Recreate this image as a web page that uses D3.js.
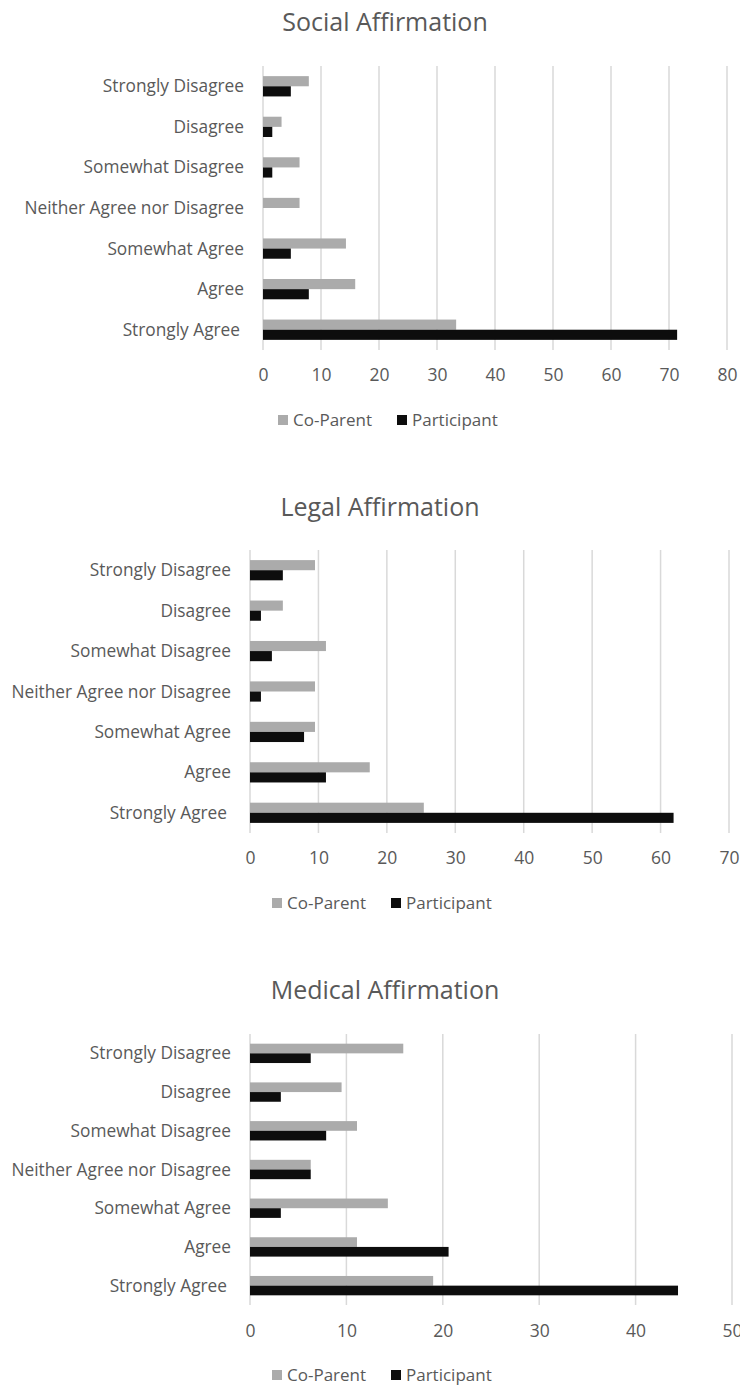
<!DOCTYPE html>
<html>
<head>
<meta charset="utf-8">
<script src="https://cdn.jsdelivr.net/npm/d3@7"></script>
<style>
  body { margin: 0; background: #fff; }
  svg text { font-family: 'Open Sans', sans-serif; fill: #595959; }
</style>
</head>
<body>
<div id="canvas"></div>
<script>
const categories = ['Strongly Disagree', 'Disagree', 'Somewhat Disagree',
  'Neither Agree nor Disagree', 'Somewhat Agree', 'Agree', 'Strongly Agree ']
const seriesNames = ['Co-Parent', 'Participant']
const colors = ['#ababab', '#0d0d0d']

const socialCoParent = [7.9, 3.2, 6.3, 6.3, 14.3, 15.9, 33.3]
const socialParticipant = [4.8, 1.6, 1.6, 0, 4.8, 7.9, 71.4]
const legalCoParent = [9.5, 4.8, 11.1, 9.5, 9.5, 17.5, 25.4]
const legalParticipant = [4.8, 1.6, 3.2, 1.6, 7.9, 11.1, 61.9]
const medicalCoParent = [15.9, 9.5, 11.1, 6.3, 14.3, 11.1, 19.0]
const medicalParticipant = [6.3, 3.2, 7.9, 6.3, 3.2, 20.6, 44.4]

const socialTicks = [0, 10, 20, 30, 40, 50, 60, 70, 80]
const legalTicks = [0, 10, 20, 30, 40, 50, 60, 70]
const medicalTicks = [0, 10, 20, 30, 40, 50]

const svg = d3.select('#canvas')
  .append('svg')
  .attr('width', 740)
  .attr('height', 1386)

const charts = [
  {title: 'Social Affirmation', titleX: 385, titleY: 22, series: [socialCoParent, socialParticipant],
    ticks: socialTicks, x0: 263, x1: 727, top: 66, bottom: 350, labelX: 244, tickY: 375, legendY: 420, legendX: [278, 397]},
  {title: 'Legal Affirmation', titleX: 380, titleY: 507, series: [legalCoParent, legalParticipant],
    ticks: legalTicks, x0: 250, x1: 729, top: 550, bottom: 833, labelX: 231, tickY: 858, legendY: 903, legendX: [272, 391]},
  {title: 'Medical Affirmation', titleX: 385, titleY: 990, series: [medicalCoParent, medicalParticipant],
    ticks: medicalTicks, x0: 250, x1: 732, top: 1034, bottom: 1305, labelX: 231, tickY: 1331, legendY: 1375, legendX: [272, 391]}
]

charts.forEach(c => {
  const g = svg.append('g')

  const x = d3.scaleLinear()
    .domain([0, c.ticks[c.ticks.length - 1]])
    .range([c.x0, c.x1])

  const y = d3.scaleBand()
    .domain(categories)
    .range([c.top, c.bottom])
    .paddingInner(0.5)
    .paddingOuter(0.25)

  const inner = d3.scaleBand()
    .domain(seriesNames)
    .range([0, y.bandwidth()])

  g.append('text')
    .text(c.title)
    .attr('x', c.titleX)
    .attr('y', c.titleY)
    .attr('dy', '0.35em')
    .attr('text-anchor', 'middle')
    .attr('font-size', '25px')

  // gridlines
  g.selectAll('.grid')
    .data(c.ticks)
    .enter()
    .append('line')
    .attr('x1', d => x(d))
    .attr('x2', d => x(d))
    .attr('y1', c.top)
    .attr('y2', c.bottom)
    .style('stroke', '#d9d9d9')
    .style('stroke-width', 1.5)

  const xAxis = g.append('g')
    .attr('transform', `translate(0,${c.tickY})`)
    .call(d3.axisBottom(x).tickValues(c.ticks).tickSize(0).tickPadding(0))
  xAxis.select('.domain').remove()
  xAxis.selectAll('text')
    .attr('dy', '0.35em')
    .attr('y', 0)
    .attr('font-size', '17.5px')
    .style('font-family', "'Open Sans', sans-serif")
    .style('fill', '#595959')

  g.selectAll('.cat')
    .data(categories)
    .enter()
    .append('text')
    .text(d => d.trim())
    .attr('x', d => d.endsWith(' ') ? c.labelX - 4 : c.labelX)
    .attr('y', d => y(d) + y.bandwidth() / 2)
    .attr('dy', '0.35em')
    .attr('text-anchor', 'end')
    .attr('font-size', '17.3px')

  c.series.forEach((vals, si) => {
    g.selectAll('.bar' + si)
      .data(vals)
      .enter()
      .append('rect')
      .attr('x', x(0))
      .attr('y', (d, i) => y(categories[i]) + inner(seriesNames[si]))
      .attr('width', d => x(d) - x(0))
      .attr('height', inner.bandwidth())
      .style('fill', colors[si])
  })

  seriesNames.forEach((name, si) => {
    g.append('rect')
      .attr('x', c.legendX[si])
      .attr('y', c.legendY - 5)
      .attr('width', 10)
      .attr('height', 10)
      .style('fill', colors[si])
    g.append('text')
      .text(name)
      .attr('x', c.legendX[si] + 15)
      .attr('y', c.legendY)
      .attr('dy', '0.35em')
      .attr('font-size', '17px')
  })
})
</script>
</body>
</html>
